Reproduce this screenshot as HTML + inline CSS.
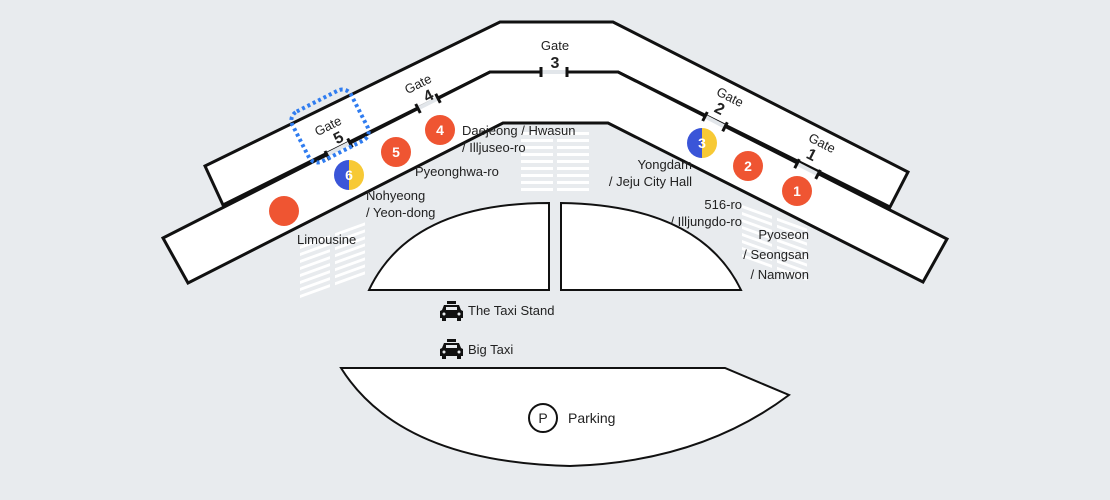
<!DOCTYPE html>
<html><head><meta charset="utf-8"><style>
html,body{margin:0;padding:0;background:#e8ebee;}
svg{display:block;}
text{font-family:"Liberation Sans",sans-serif;fill:#222;}
</style></head><body>
<svg width="1110" height="500" viewBox="0 0 1110 500" xmlns="http://www.w3.org/2000/svg">
<rect width="1110" height="500" fill="#e8ebee"/>
<polygon points="205,166 500,22 613,22 908,172 890,207 618,72 490,72 223,205" fill="#fff" stroke="#111" stroke-width="3"/>
<polygon points="163,238 490,72 618,72 947,239 923,282 608,123 503,123 188,283" fill="#fff" stroke="#111" stroke-width="3"/>
<g fill="#fff">
 <g transform="translate(300,246) skewY(-20)">
  <rect x="0" y="0" width="30" height="3"/><rect x="0" y="7" width="30" height="3"/><rect x="0" y="14" width="30" height="3"/><rect x="0" y="21" width="30" height="3"/><rect x="0" y="28" width="30" height="3"/><rect x="0" y="35" width="30" height="3"/><rect x="0" y="42" width="30" height="3"/><rect x="0" y="49" width="30" height="3"/>
  <rect x="35" y="0" width="30" height="3"/><rect x="35" y="7" width="30" height="3"/><rect x="35" y="14" width="30" height="3"/><rect x="35" y="21" width="30" height="3"/><rect x="35" y="28" width="30" height="3"/><rect x="35" y="35" width="30" height="3"/><rect x="35" y="42" width="30" height="3"/><rect x="35" y="49" width="30" height="3"/>
 </g>
 <g>
  <rect x="521" y="132" width="32" height="3"/><rect x="521" y="139" width="32" height="3"/><rect x="521" y="146" width="32" height="3"/><rect x="521" y="153" width="32" height="3"/><rect x="521" y="160" width="32" height="3"/><rect x="521" y="167" width="32" height="3"/><rect x="521" y="174" width="32" height="3"/><rect x="521" y="181" width="32" height="3"/><rect x="521" y="188" width="32" height="3"/>
  <rect x="557" y="132" width="32" height="3"/><rect x="557" y="139" width="32" height="3"/><rect x="557" y="146" width="32" height="3"/><rect x="557" y="153" width="32" height="3"/><rect x="557" y="160" width="32" height="3"/><rect x="557" y="167" width="32" height="3"/><rect x="557" y="174" width="32" height="3"/><rect x="557" y="181" width="32" height="3"/><rect x="557" y="188" width="32" height="3"/>
 </g>
 <g transform="translate(742,205) skewY(20)">
  <rect x="0" y="0" width="30" height="3"/><rect x="0" y="7" width="30" height="3"/><rect x="0" y="14" width="30" height="3"/><rect x="0" y="21" width="30" height="3"/><rect x="0" y="28" width="30" height="3"/><rect x="0" y="35" width="30" height="3"/><rect x="0" y="42" width="30" height="3"/><rect x="0" y="49" width="30" height="3"/>
  <rect x="35" y="0" width="30" height="3"/><rect x="35" y="7" width="30" height="3"/><rect x="35" y="14" width="30" height="3"/><rect x="35" y="21" width="30" height="3"/><rect x="35" y="28" width="30" height="3"/><rect x="35" y="35" width="30" height="3"/><rect x="35" y="42" width="30" height="3"/><rect x="35" y="49" width="30" height="3"/>
 </g>
</g>
<g stroke="#e2e6ea" stroke-width="4">
 <line x1="328" y1="154.2" x2="349" y2="143.5"/>
 <line x1="419" y1="108" x2="437" y2="98.8"/>
 <line x1="542" y1="72" x2="566" y2="72"/>
 <line x1="706" y1="117" x2="724" y2="126.3"/>
 <line x1="798" y1="164.2" x2="817" y2="173.9"/>
</g>
<g stroke="#111" stroke-width="3">
 <line x1="325" y1="151" x2="329.6" y2="160"/>
 <line x1="347.7" y1="138.5" x2="352.3" y2="147.5"/>
 <line x1="415.7" y1="104" x2="420.3" y2="113"/>
 <line x1="435.7" y1="93.8" x2="440.3" y2="102.8"/>
 <line x1="541" y1="67" x2="541" y2="77"/>
 <line x1="567" y1="67" x2="567" y2="77"/>
 <line x1="707.3" y1="112" x2="702.7" y2="121"/>
 <line x1="727.3" y1="122.3" x2="722.7" y2="131.3"/>
 <line x1="799.3" y1="159.2" x2="794.7" y2="168.2"/>
 <line x1="820.3" y1="169.9" x2="815.7" y2="178.9"/>
</g>
<text x="555" y="50" font-size="13" text-anchor="middle">Gate</text>
<text x="555" y="68" font-size="16" font-weight="bold" text-anchor="middle">3</text>
<g transform="translate(420,88) rotate(-27)"><text x="0" y="0" font-size="13" text-anchor="middle">Gate</text><text x="4" y="16" font-size="16" font-weight="bold" text-anchor="middle">4</text></g>
<g transform="translate(330,130) rotate(-27)"><text x="0" y="0" font-size="13" text-anchor="middle">Gate</text><text x="4" y="16" font-size="16" font-weight="bold" text-anchor="middle">5</text></g>
<g transform="translate(728,101) rotate(27)"><text x="0" y="0" font-size="13" text-anchor="middle">Gate</text><text x="-4" y="16" font-size="16" font-weight="bold" text-anchor="middle">2</text></g>
<g transform="translate(820,147) rotate(27)"><text x="0" y="0" font-size="13" text-anchor="middle">Gate</text><text x="-4" y="16" font-size="16" font-weight="bold" text-anchor="middle">1</text></g>
<g transform="translate(330,126) rotate(-27)"><rect x="-33" y="-28" width="66" height="56" rx="10" fill="none" stroke="#2f7cf0" stroke-width="4" stroke-dasharray="3,3"/></g>
<g font-size="14" font-weight="bold" text-anchor="middle">
 <circle cx="284" cy="211" r="15" fill="#ef5532"/>
 <circle cx="396" cy="152" r="15" fill="#ef5532"/><text x="396" y="157" style="fill:#fff">5</text>
 <circle cx="440" cy="130" r="15" fill="#ef5532"/><text x="440" y="135" style="fill:#fff">4</text>
 <circle cx="748" cy="166" r="15" fill="#ef5532"/><text x="748" y="171" style="fill:#fff">2</text>
 <circle cx="797" cy="191" r="15" fill="#ef5532"/><text x="797" y="196" style="fill:#fff">1</text>
 <path d="M349,160 A15,15 0 0,0 349,190 Z" fill="#3a55d8"/><path d="M349,160 A15,15 0 0,1 349,190 Z" fill="#f7c935"/><text x="349" y="180" style="fill:#fff">6</text>
 <path d="M702,128 A15,15 0 0,0 702,158 Z" fill="#3a55d8"/><path d="M702,128 A15,15 0 0,1 702,158 Z" fill="#f7c935"/><text x="702" y="148" style="fill:#fff">3</text>
</g>
<g font-size="13">
 <text x="462" y="135">Daejeong / Hwasun</text>
 <text x="462" y="152">/ Illjuseo-ro</text>
 <text x="415" y="176">Pyeonghwa-ro</text>
 <text x="366" y="200">Nohyeong</text>
 <text x="366" y="217">/ Yeon-dong</text>
 <text x="297" y="244">Limousine</text>
 <text x="692" y="169" text-anchor="end">Yongdam</text>
 <text x="692" y="186" text-anchor="end">/ Jeju City Hall</text>
 <text x="742" y="209" text-anchor="end">516-ro</text>
 <text x="742" y="226" text-anchor="end">/ Illjungdo-ro</text>
 <text x="809" y="239" text-anchor="end">Pyoseon</text>
 <text x="809" y="259" text-anchor="end">/ Seongsan</text>
 <text x="809" y="279" text-anchor="end">/ Namwon</text>
</g>
<path d="M369,290 L549,290 L549,203 Q410,203 369,290 Z" fill="#fff" stroke="#111" stroke-width="2"/>
<path d="M561,203 L561,290 L741,290 Q700,205 561,203 Z" fill="#fff" stroke="#111" stroke-width="2"/>
<g fill="#111">
 <g transform="translate(440,301)">
  <rect x="7" y="0" width="9" height="3"/>
  <path d="M4,4 L19,4 L21,9 L23,10 L23,17 L0,17 L0,10 L2,9 Z"/>
  <rect x="2" y="16" width="4" height="4"/><rect x="17" y="16" width="4" height="4"/>
  <rect x="6" y="6" width="11" height="3" fill="#e8ebee"/>
  <circle cx="4" cy="13" r="1.5" fill="#e8ebee"/><circle cx="19" cy="13" r="1.5" fill="#e8ebee"/>
 </g>
 <g transform="translate(440,339)">
  <rect x="7" y="0" width="9" height="3"/>
  <path d="M4,4 L19,4 L21,9 L23,10 L23,17 L0,17 L0,10 L2,9 Z"/>
  <rect x="2" y="16" width="4" height="4"/><rect x="17" y="16" width="4" height="4"/>
  <rect x="6" y="6" width="11" height="3" fill="#e8ebee"/>
  <circle cx="4" cy="13" r="1.5" fill="#e8ebee"/><circle cx="19" cy="13" r="1.5" fill="#e8ebee"/>
 </g>
</g>
<text x="468" y="315" font-size="13">The Taxi Stand</text>
<text x="468" y="354" font-size="13">Big Taxi</text>
<path d="M341,368 L725,368 L789,395 Q700,462 570,466 Q400,462 341,368 Z" fill="#fff" stroke="#111" stroke-width="2"/>
<circle cx="543" cy="418" r="14" fill="#fff" stroke="#111" stroke-width="2"/>
<text x="543" y="423" font-size="14" text-anchor="middle">P</text>
<text x="568" y="423" font-size="14">Parking</text>
</svg>
</body></html>
